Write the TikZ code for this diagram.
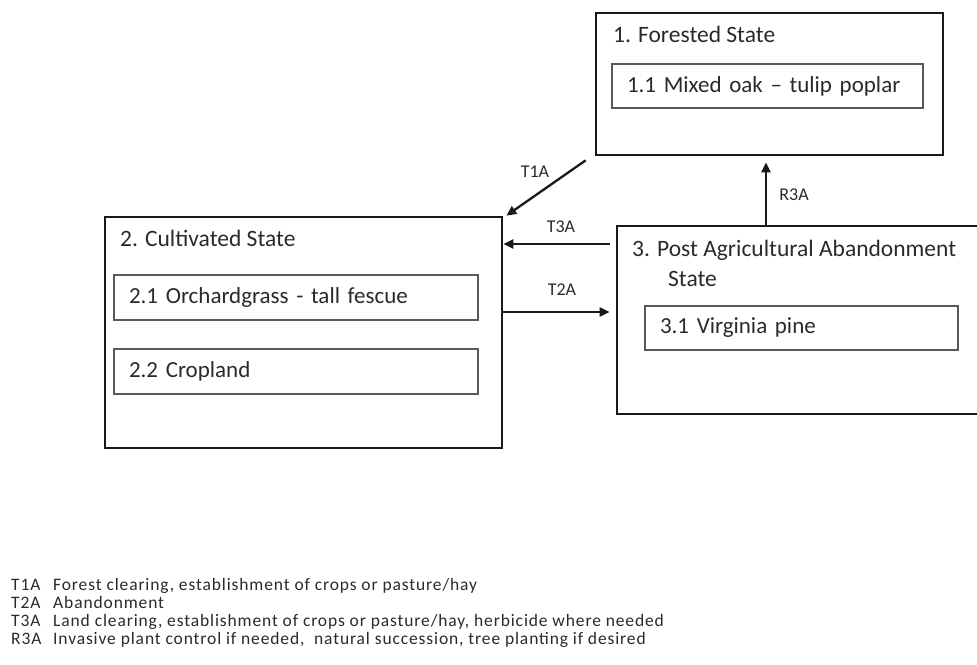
\documentclass[tikz,border=0pt]{standalone}
\usepackage{fontspec}
\setmainfont{Carlito}
\newfontfamily\legendfont[LetterSpace=5]{Carlito}
\usetikzlibrary{arrows.meta,calc}
\definecolor{ink}{HTML}{2A2A2A}
\begin{document}
\begin{tikzpicture}[x=1pt,y=-1pt,
  statebox/.style={draw=black!90, line width=2.7pt, inner sep=0pt},
  phasebox/.style={draw=black!65, line width=1.5pt, inner xsep=15pt, inner ysep=0pt,
    align=left, font=\fontsize{23}{27}\selectfont, text=ink},
  titletext/.style={anchor=west, inner sep=0pt, align=left, font=\fontsize{23.5}{30}\selectfont, text=ink},
  trans/.style={line width=2.3pt, draw=black!90, -{Triangle[length=10pt,width=9pt]}},
  tlabel/.style={inner sep=0pt, font=\fontsize{18}{20}\selectfont, text=ink},
  legend/.style={anchor=base west, inner sep=0pt, font=\legendfont\fontsize{17.5}{18}\selectfont, text=ink}
]
\useasboundingbox (0,0) rectangle (977,664);
\clip (0,0) rectangle (977,664);
% state boxes
\node[statebox, minimum width=347pt, minimum height=142pt] (s1) at (769.5,84) {};
\node[statebox, minimum width=397pt, minimum height=231pt] (s2) at (303.5,332.5) {};
\node[statebox, minimum width=373pt, minimum height=188pt] (s3) at (803.5,320) {};
% titles
\node[titletext] (t1) at (613,34) {1. Forested State};
\node[titletext] (t2) at (120,238) {2. Cultivated State};
\node[titletext] (t3) at (632,263) {3. Post Agricultural Abandonment\\\hspace*{36pt}State};
% phases
\node[phasebox, minimum height=44pt, text width=281pt] (p11) at (767.5,86) {1.1 Mixed oak -- tulip poplar};
\node[phasebox, minimum height=45pt, text width=334pt] (p21) at (296,297.5) {2.1 Orchardgrass - tall fescue};
\node[phasebox, minimum height=45pt, text width=334pt] (p22) at (296,371.5) {2.2 Cropland};
\node[phasebox, minimum height=44pt, text width=283pt] (p31) at (801.5,328) {3.1 Virginia pine};
% connector end points
\coordinate (a1s) at ($(s1.south west)+(-9,4)$);
\coordinate (a1e) at ($(s2.north east)+(3,0)$);
\coordinate (a3s) at ($(s3.west)+(-6,0)$);
\coordinate (r3s) at (766,0);
% transitions
\draw[trans] (a1s) -- (a1e);
\draw[trans] (a3s |- 0,244) -- (s2.east |- 0,244);
\draw[trans] (s2.east |- 0,312) -- (a3s |- 0,312);
\draw[trans] (r3s |- s3.north) -- ($(r3s |- s1.south)+(0,6)$);
% labels
\node[tlabel] (l1) at (535,172) {T1A};
\node[tlabel] (l3) at (561,227) {T3A};
\node[tlabel] (l2) at (562,290) {T2A};
\node[tlabel] (lr) at (794,195) {R3A};
% legend
\node[legend] (c1) at (11,590) {T1A};
\node[legend] (d1) at (53,590) {Forest clearing, establishment of crops or pasture/hay};
\node[legend] (c2) at (11,608) {T2A};
\node[legend] (d2) at (53,608) {Abandonment};
\node[legend] (c3) at (11,626) {T3A};
\node[legend] (d3) at (53,626) {Land clearing, establishment of crops or pasture/hay, herbicide where needed};
\node[legend] (c4) at (11,644) {R3A};
\node[legend] (d4) at (53,644) {Invasive plant control if needed,\ \ natural succession, tree planting if desired};
\end{tikzpicture}
\end{document}
